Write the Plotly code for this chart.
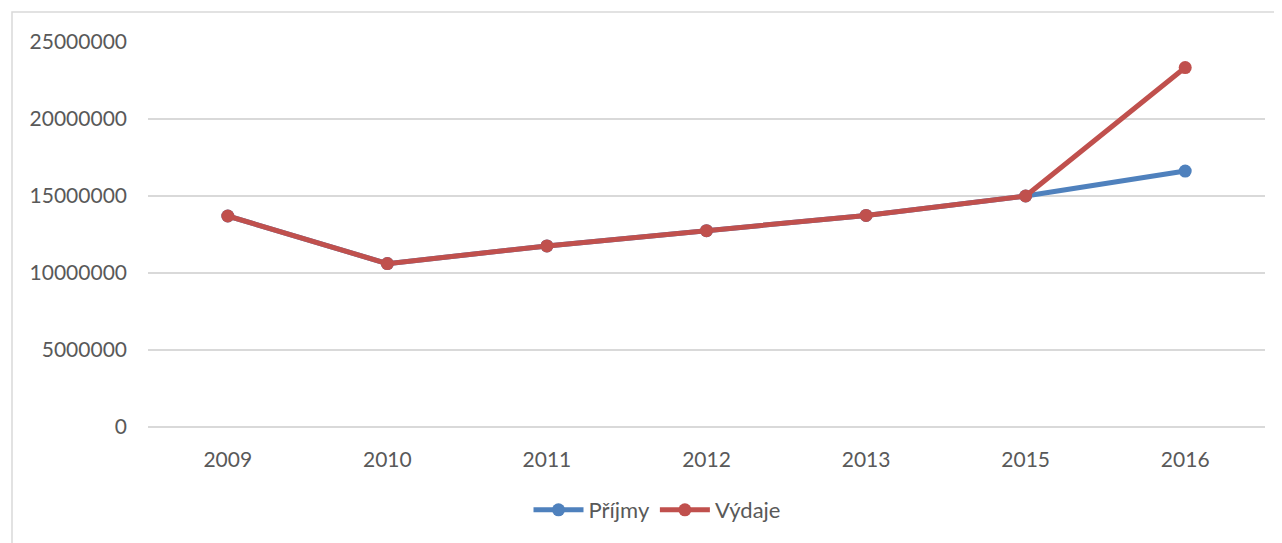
import plotly.graph_objects as go

years = ["2009", "2010", "2011", "2012", "2013", "2015", "2016"]
prijmy = [13700000, 10610000, 11760000, 12750000, 13740000, 15000000, 16620000]
vydaje = [13700000, 10610000, 11760000, 12750000, 13740000, 15000000, 23340000]
yticks = [0, 5000000, 10000000, 15000000, 20000000, 25000000]

W, H = 1282, 543
L, R, T, B = 140, 25, 34, 124
pw, ph = W - L - R, H - T - B

fig = go.Figure()
fig.add_trace(go.Scatter(x=years, y=prijmy, name="Příjmy", mode="lines+markers",
                         line=dict(color="#4F81BD", width=5),
                         marker=dict(size=13, color="#4F81BD")))
fig.add_trace(go.Scatter(x=years, y=vydaje, name="Výdaje", mode="lines+markers",
                         line=dict(color="#C0504D", width=5),
                         marker=dict(size=13, color="#C0504D")))

fig.add_shape(type="rect", xref="paper", yref="paper",
              x0=(4 - L) / pw, x1=1.2, y0=-1, y1=1 + (T - 4) / ph,
              line=dict(color="#d9d9d9", width=1.5), fillcolor="rgba(0,0,0,0)", layer="below")

fig.update_layout(
    width=W, height=H,
    margin=dict(l=L, r=R, t=T, b=B),
    paper_bgcolor="white", plot_bgcolor="white",
    font=dict(family="Lato", size=21, color="#595959"),
    showlegend=True,
    legend=dict(orientation="h", x=(649 - L) / pw, xanchor="center",
                y=(H - B - 502) / ph, yanchor="middle",
                font=dict(size=22, color="#595959"), itemwidth=50, tracegroupgap=0),
    xaxis=dict(type="category", showgrid=False, showline=False, zeroline=False,
               ticks="", ticklabelstandoff=18, range=[-0.5, 6.5]),
    yaxis=dict(range=[0, 25000000], tickvals=yticks, ticktext=[str(v) for v in yticks],
               showgrid=True, gridcolor="#d9d9d9", gridwidth=1.5,
               zeroline=True, zerolinecolor="#d9d9d9", zerolinewidth=1.5,
               showline=False, ticks="", ticklabelstandoff=20),
)

fig.write_html("out.html")
